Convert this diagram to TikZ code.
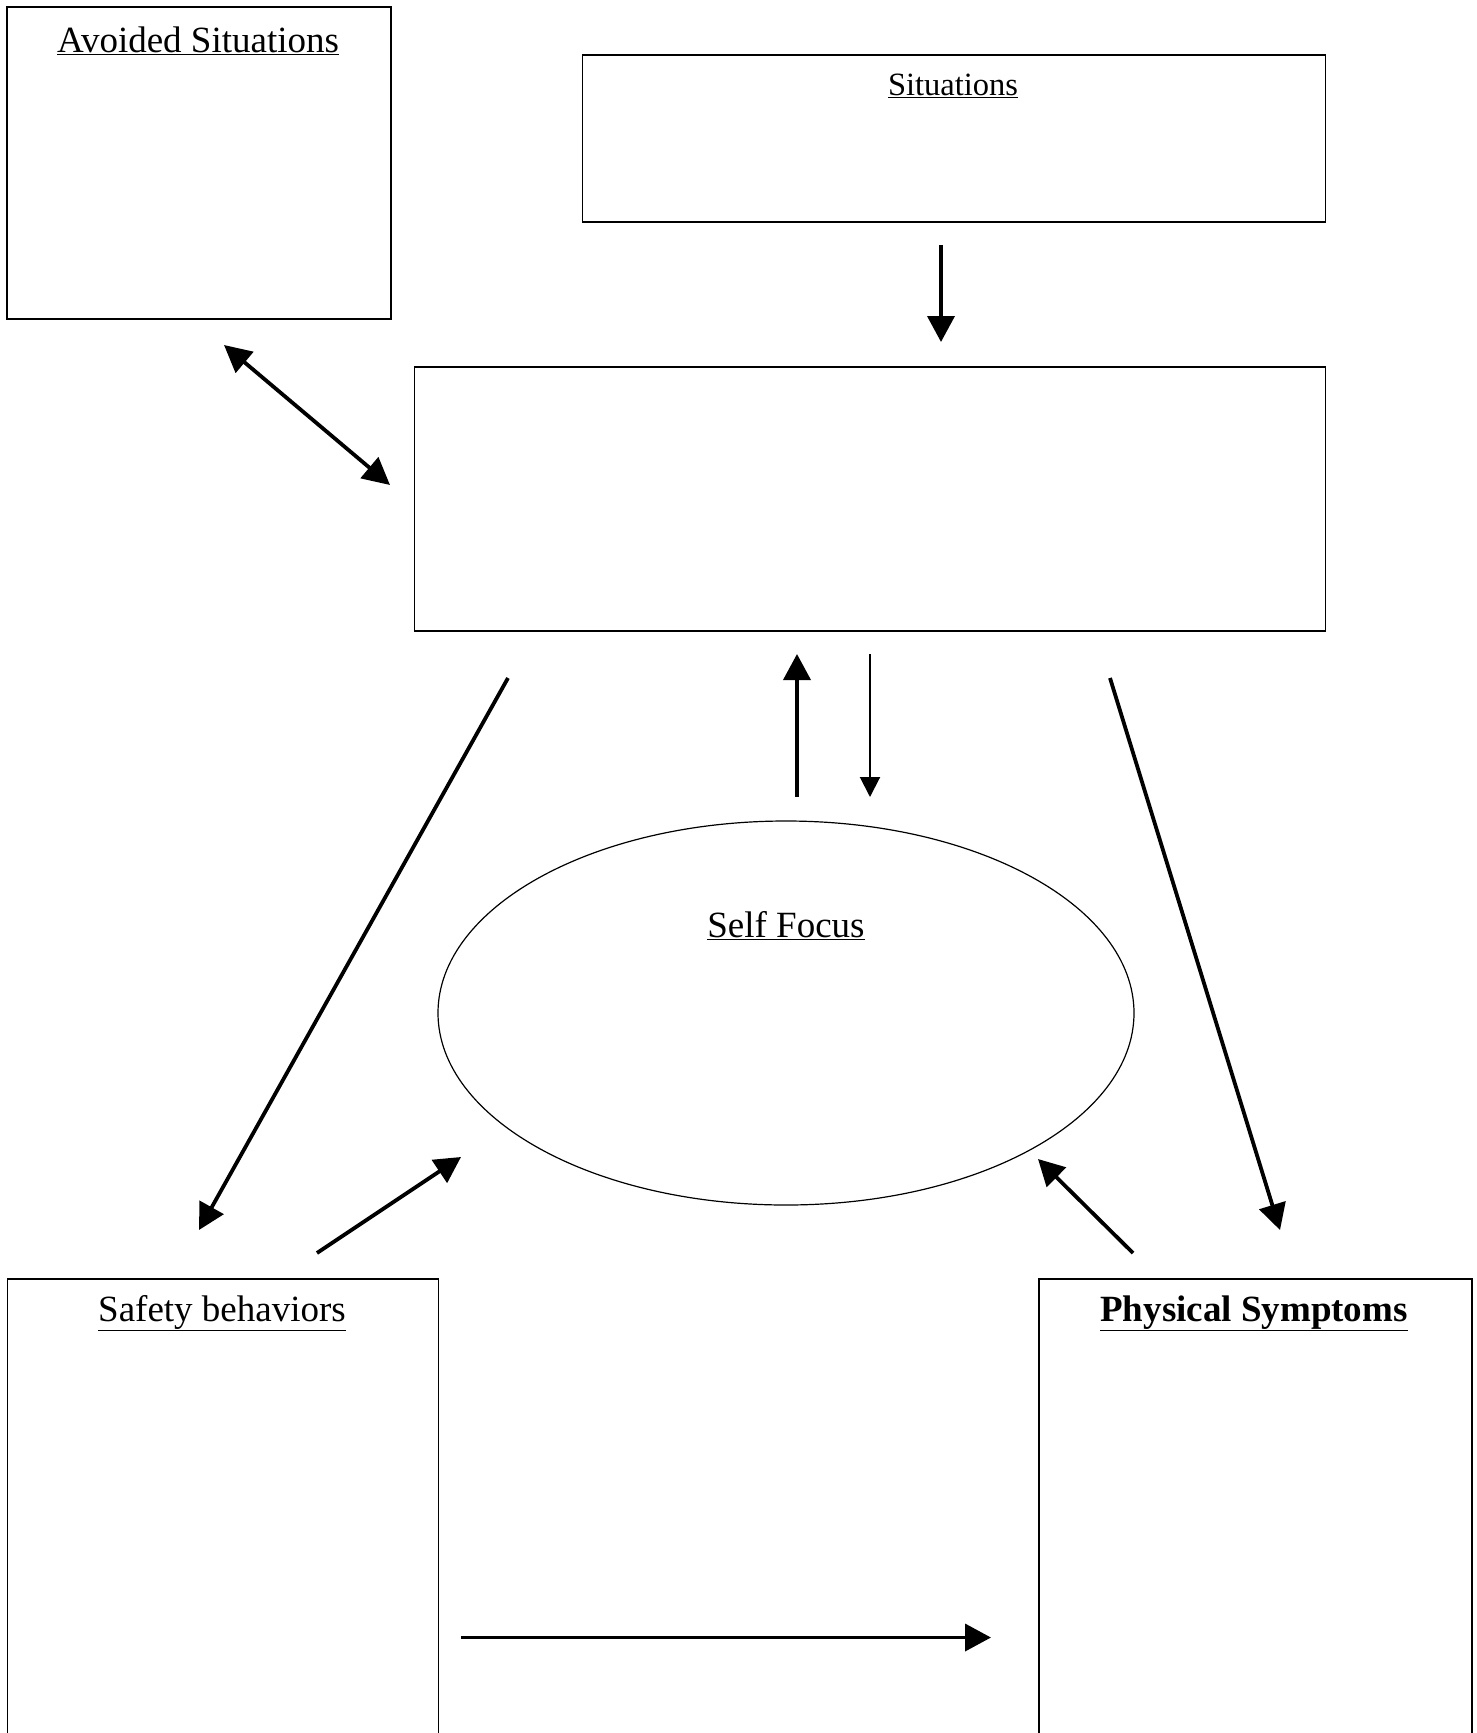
\documentclass[tikz,border=0pt]{standalone}
\usepackage{fontspec}
\setmainfont{Liberation Serif}
\usetikzlibrary{arrows.meta,shapes.geometric}
\tikzset{
  box/.style={draw=black, line width=1.8pt, anchor=north west, inner sep=0pt},
  title/.style={anchor=base, inner sep=0pt, font=\fontsize{37}{44}\selectfont},
  smalltitle/.style={anchor=base, inner sep=0pt, font=\fontsize{32.5}{40}\selectfont},
  thickarrow/.style={line width=3.8pt, -{Triangle[length=26pt, width=27pt]}},
  thinarrow/.style={line width=2pt, -{Triangle[length=20pt, width=20pt]}},
  dblarrow/.style={line width=3.8pt, {Triangle[length=27pt, width=27pt]}-{Triangle[length=27pt, width=27pt]}},
}
\begin{document}
\begin{tikzpicture}[x=1pt, y=-1pt]
\useasboundingbox (0,0) rectangle (1477,1733);
\fill[white] (0,0) rectangle (1477,1733);
\clip (0,0) rectangle (1477,1733);

% boxes
\node[box, minimum width=384pt, minimum height=312pt] (avoided) at (6,6) {};
\node[box, minimum width=743pt, minimum height=167pt] (situations) at (581.5,54) {};
\node[box, line width=1.5pt, minimum width=911pt, minimum height=264pt] (middle) at (413.5,366) {};
\node[box, minimum width=431pt, minimum height=520pt] (safety) at (6.5,1278) {};
\node[box, minimum width=433pt, minimum height=520pt] (physical) at (1038,1278) {};
\node[draw=black, line width=1.2pt, ellipse, minimum width=696pt, minimum height=384pt, inner sep=0pt] (selffocus) at (786,1013) {};

% titles
\node[title] (tavoided) at (198,52) {\underline{Avoided Situations}};
\node[smalltitle] (tsituations) at (953,95) {\underline{Situations}};
\node[title] (tself) at (786,937) {\underline{Self Focus}};
\node[title] (tsafety) at (222,1321) {\underline{Safety behaviors}};
\node[title] (tphysical) at (1254,1321) {\textbf{\underline{Physical Symptoms}}};

% connector end points
\coordinate (s1) at (941,245);
\coordinate (s2) at (941,342);
\coordinate (d1) at (224,345);
\coordinate (d2) at (390,485);
\coordinate (u1) at (797,797);
\coordinate (u2) at (797,654);
\coordinate (w1) at (870,654);
\coordinate (w2) at (870,797);
\coordinate (l1) at (508,678);
\coordinate (l2) at (199,1230);
\coordinate (r1) at (1110,678);
\coordinate (r2) at (1280,1230);
\coordinate (a1) at (317,1253);
\coordinate (a2) at (461,1157);
\coordinate (b1) at (1133,1253);
\coordinate (b2) at (1038,1159);
\coordinate (h1) at (461,1637.5);
\coordinate (h2) at (991,1637.5);

\draw[thickarrow] (s1) -- (s2);
\draw[dblarrow] (d1) -- (d2);
\draw[thickarrow] (u1) -- (u2);
\draw[thinarrow] (w1) -- (w2);
\draw[thickarrow] (l1) -- (l2);
\draw[thickarrow] (r1) -- (r2);
\draw[thickarrow] (a1) -- (a2);
\draw[thickarrow] (b1) -- (b2);
\draw[thickarrow] (h1) -- (h2);
\end{tikzpicture}
\end{document}
